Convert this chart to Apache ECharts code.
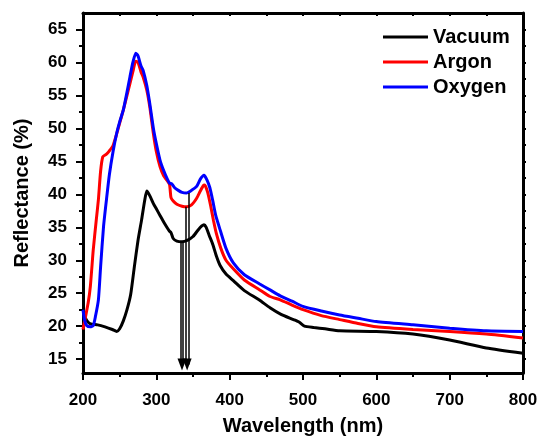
<!DOCTYPE html>
<html>
<head>
<meta charset="utf-8">
<script src="https://cdn.jsdelivr.net/npm/echarts@6/dist/echarts.min.js"></script>
<style>
  html, body { margin: 0; padding: 0; background: #fff; }
  #chart { width: 538px; height: 438px; }
</style>
</head>
<body>
<div id="chart"></div>
<script>
// wavelength (nm) / reflectance (%)
var vacuumWl = [200, 203, 207, 212, 220, 230, 240, 246, 250, 255, 260, 265, 270, 275, 280, 284, 287, 291, 296, 300, 305, 310, 315, 318, 320, 323, 328, 335, 342, 350, 357, 362, 365, 368, 372, 377, 382, 387, 395, 405, 420, 440, 455, 470, 487, 495, 502, 515, 530, 550, 600, 650, 700, 750, 800];
var vacuumR  = [22.5, 21.3, 20.6, 20.3, 20.2, 19.9, 19.5, 19.2, 19.6, 20.8, 22.5, 24.8, 29, 33, 36.2, 39, 40.5, 39.8, 38.6, 37.8, 36.8, 35.8, 34.9, 34.4, 34.2, 33.3, 32.9, 32.8, 33, 33.6, 34.6, 35.2, 35.4, 35, 33.8, 32.4, 30.6, 29.2, 27.9, 26.9, 25.4, 24, 22.8, 21.8, 21, 20.6, 20, 19.8, 19.6, 19.3, 19.2, 18.8, 17.9, 16.7, 15.9];

var argonWl = [200, 203, 207, 210, 214, 218, 221, 224, 227, 232, 236, 241, 246, 250, 255, 260, 264, 268, 272, 275, 279, 282, 287, 291, 296, 300, 305, 310, 314, 318, 319, 320, 323, 328, 335, 341, 348, 355, 360, 364, 366, 370, 374, 378, 382, 388, 395, 405, 420, 441, 455, 469, 485, 500, 525, 550, 575, 600, 650, 700, 750, 800];
var argonR  = [19.5, 21.2, 23.5, 26, 31.6, 36, 39.2, 43.5, 45.7, 46.1, 46.6, 47.4, 49.2, 50.8, 52.8, 55, 56.8, 58.6, 60.2, 60, 58.6, 57.8, 55.8, 53.3, 49.2, 46.5, 44.2, 42.8, 42.2, 41.5, 40.5, 39.5, 39, 38.5, 38.2, 38.1, 38.4, 39.4, 40.5, 41.3, 41.4, 40.3, 38.3, 36, 34, 31.8, 30, 28.7, 27, 25.5, 24.5, 24, 23.2, 22.5, 21.6, 21, 20.4, 19.9, 19.5, 19.2, 18.8, 18.2];

var oxygenWl = [200, 202, 205, 210, 214, 217, 221, 224, 228, 232, 236, 241, 246, 250, 255, 260, 264, 268, 272, 275, 279, 282, 287, 291, 296, 300, 305, 310, 315, 318, 321, 325, 330, 335, 341, 348, 355, 360, 365, 369, 373, 377, 381, 387, 395, 405, 420, 441, 455, 469, 485, 500, 525, 550, 575, 600, 650, 700, 750, 800];
var oxygenR  = [22.5, 21, 20.1, 19.9, 20.1, 21.5, 24, 29, 35.1, 39.2, 43, 46.5, 49.3, 51, 52.8, 55.5, 57.8, 60, 61.4, 61, 59.5, 58.8, 56.5, 53.8, 50, 47.7, 45.2, 43.6, 42.3, 41.7, 41.6, 41, 40.6, 40.3, 40.2, 40.6, 41.2, 42.3, 42.9, 42.2, 41, 39, 36.8, 34.6, 31.8, 29.6, 27.8, 26.4, 25.5, 24.6, 23.8, 23, 22.3, 21.7, 21.2, 20.7, 20.2, 19.7, 19.3, 19.2];

var seriesNames = ['Vacuum', 'Argon', 'Oxygen'];
var yMajor = [15, 20, 25, 30, 35, 40, 45, 50, 55, 60, 65];
var yMinor = [17.5, 22.5, 27.5, 32.5, 37.5, 42.5, 47.5, 52.5, 57.5, 62.5];

// arrows: wavelength, start value, end value
var arrow1 = [335, 32.8, 14.2];
var arrow2 = [342, 40.2, 14.2];

function pairs(xs, ys) {
    var out = [];
    for (var i = 0; i < xs.length; i++) out.push([xs[i], ys[i]]);
    return out;
}

var font = 'Liberation Sans, Arial, sans-serif';
var chart = echarts.init(document.getElementById('chart'));

var option = {
    animation: false,
    grid: { left: 83, right: 15, top: 13, bottom: 65, outerBoundsMode: 'none', containLabel: false },
    legend: {
        orient: 'vertical',
        left: 378,
        top: 22,
        itemWidth: 45,
        itemHeight: 3,
        itemGap: 5,
        icon: 'rect',
        data: seriesNames,
        textStyle: { fontFamily: font, fontWeight: 'bold', fontSize: 20, color: '#000', padding: [0, 0, 0, 0] }
    },
    xAxis: [{
        type: 'value',
        min: 200, max: 800, interval: 100,
        name: 'Wavelength (nm)',
        nameLocation: 'middle',
        nameGap: 43,
        nameTextStyle: { fontFamily: font, fontWeight: 'bold', fontSize: 20, color: '#000' },
        axisLine: { show: true, onZero: false, lineStyle: { color: '#000', width: 3 } },
        axisTick: { show: true, length: 7, lineStyle: { color: '#000', width: 2 } },
        minorTick: { show: true, splitNumber: 2, length: 4, lineStyle: { color: '#000', width: 2 } },
        axisLabel: { margin: 19, fontFamily: font, fontWeight: 'bold', fontSize: 17, color: '#000' },
        splitLine: { show: false }
    }, {
        type: 'value',
        position: 'top',
        min: 200, max: 800, interval: 50,
        axisLine: { show: true, onZero: false, lineStyle: { color: '#000', width: 3 } },
        axisTick: { show: true, inside: true, length: 3, lineStyle: { color: '#000', width: 2 } },
        axisLabel: { show: false },
        splitLine: { show: false }
    }],
    yAxis: [{
        type: 'value',
        min: 12.9, max: 67.5,
        name: 'Reflectance (%)',
        nameLocation: 'middle',
        nameGap: 51,
        nameTextStyle: { fontFamily: font, fontWeight: 'bold', fontSize: 20, color: '#000' },
        axisLine: { show: true, onZero: false, lineStyle: { color: '#000', width: 3 } },
        axisTick: { show: true, length: 7, customValues: yMajor, lineStyle: { color: '#000', width: 2 } },
        axisLabel: { margin: 16, customValues: yMajor, fontFamily: font, fontWeight: 'bold', fontSize: 17, color: '#000' },
        splitLine: { show: false }
    }, {
        type: 'value',
        position: 'left',
        min: 12.9, max: 67.5,
        axisLine: { show: false },
        axisTick: { show: true, length: 4, customValues: yMinor, lineStyle: { color: '#000', width: 2 } },
        axisLabel: { show: false },
        splitLine: { show: false }
    }, {
        type: 'value',
        position: 'right',
        min: 12.9, max: 67.5,
        axisLine: { show: true, onZero: false, lineStyle: { color: '#000', width: 3 } },
        axisTick: { show: true, length: 3, customValues: yMajor.concat(yMinor), lineStyle: { color: '#000', width: 2 } },
        axisLabel: { show: false },
        splitLine: { show: false }
    }],
    series: [{
        name: 'Vacuum',
        type: 'line',
        showSymbol: false,
        symbol: 'none',
        smooth: 0.2,
        data: pairs(vacuumWl, vacuumR),
        lineStyle: { color: '#000', width: 3 },
        itemStyle: { color: '#000' },
        markLine: {
            silent: true,
            symbol: ['none', 'none'],
            label: { show: false },
            lineStyle: { color: '#000', width: 1.5, type: 'solid' },
            data: [
                [{ coord: [arrow1[0] - 1.6, arrow1[1]] }, { coord: [arrow1[0] - 1.6, arrow1[2]] }],
                [{ coord: [arrow1[0] + 1.6, arrow1[1]] }, { coord: [arrow1[0] + 1.6, arrow1[2]] }],
                [{ coord: [arrow2[0] - 1.6, 38.1] }, { coord: [arrow2[0] - 1.6, arrow2[2]] }],
                [{ coord: [arrow2[0] + 1.6, arrow2[1]] }, { coord: [arrow2[0] + 1.6, arrow2[2]] }]
            ]
        },
        markPoint: {
            silent: true,
            symbol: 'triangle',
            symbolRotate: 180,
            symbolSize: [9, 12],
            label: { show: false },
            itemStyle: { color: '#000' },
            data: [
                { coord: [arrow1[0], 14.2] },
                { coord: [arrow2[0], 14.2] }
            ]
        }
    }, {
        name: 'Argon',
        type: 'line',
        showSymbol: false,
        symbol: 'none',
        smooth: 0.2,
        data: pairs(argonWl, argonR),
        lineStyle: { color: '#ff0000', width: 3 },
        itemStyle: { color: '#ff0000' }
    }, {
        name: 'Oxygen',
        type: 'line',
        showSymbol: false,
        symbol: 'none',
        smooth: 0.2,
        data: pairs(oxygenWl, oxygenR),
        lineStyle: { color: '#0000ff', width: 3 },
        itemStyle: { color: '#0000ff' }
    }]
};
chart.setOption(option);
</script>
</body>
</html>
